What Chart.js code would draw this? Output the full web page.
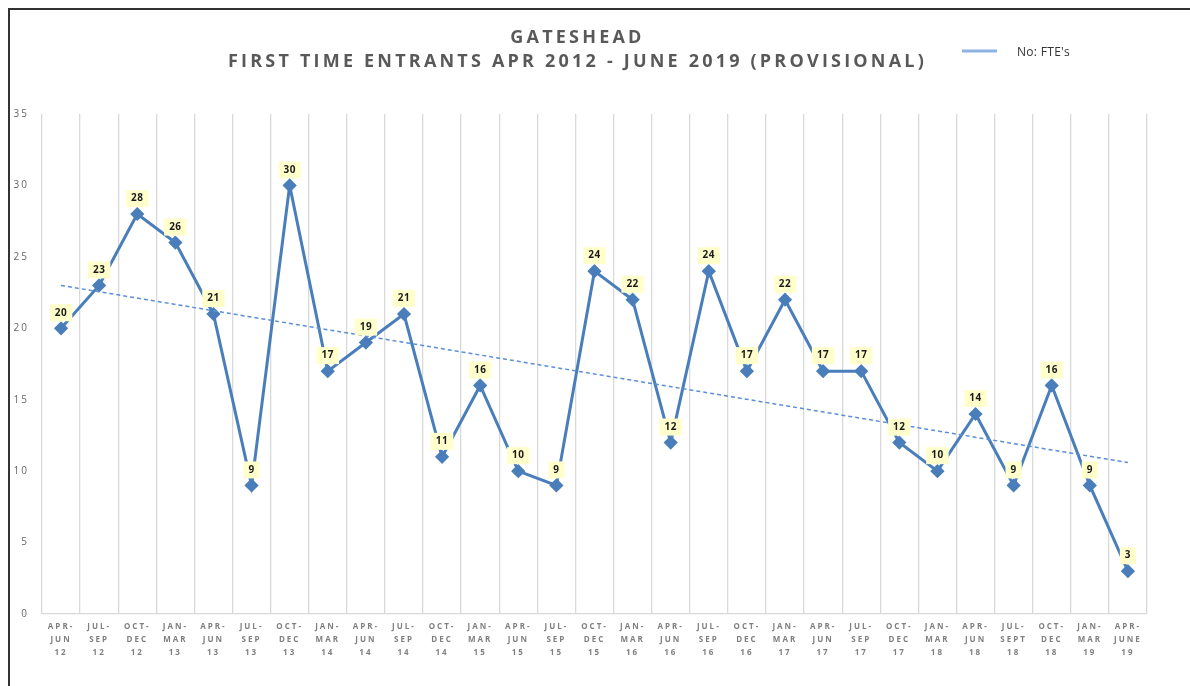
<!DOCTYPE html>
<html>
<head>
<meta charset="utf-8">
<script src="https://cdn.jsdelivr.net/npm/chart.js@4/dist/chart.umd.min.js"></script>
<style>
  body { margin: 0; background: #fff; }
  #frame { position: absolute; left: 8px; top: 8px; width: 1190px; height: 686px;
           border-top: 2px solid #333; border-left: 2px solid #333; }
  #wrap { position: absolute; left: 0; top: 0; width: 1190px; height: 686px; }
</style>
</head>
<body>
<div id="frame"></div>
<div id="wrap"><canvas id="myChart"></canvas></div>
<script>
var quarters = [
    ['APR-', 'JUN', '12'], ['JUL-', 'SEP', '12'], ['OCT-', 'DEC', '12'], ['JAN-', 'MAR', '13'],
    ['APR-', 'JUN', '13'], ['JUL-', 'SEP', '13'], ['OCT-', 'DEC', '13'], ['JAN-', 'MAR', '14'],
    ['APR-', 'JUN', '14'], ['JUL-', 'SEP', '14'], ['OCT-', 'DEC', '14'], ['JAN-', 'MAR', '15'],
    ['APR-', 'JUN', '15'], ['JUL-', 'SEP', '15'], ['OCT-', 'DEC', '15'], ['JAN-', 'MAR', '16'],
    ['APR-', 'JUN', '16'], ['JUL-', 'SEP', '16'], ['OCT-', 'DEC', '16'], ['JAN-', 'MAR', '17'],
    ['APR-', 'JUN', '17'], ['JUL-', 'SEP', '17'], ['OCT-', 'DEC', '17'], ['JAN-', 'MAR', '18'],
    ['APR-', 'JUN', '18'], ['JUL-', 'SEPT', '18'], ['OCT-', 'DEC', '18'], ['JAN-', 'MAR', '19'],
    ['APR-', 'JUNE', '19']
];
var fteCounts = [20, 23, 28, 26, 21, 9, 30, 17, 19, 21, 11, 16, 10, 9, 24, 22, 12, 24, 17, 22,
                 17, 17, 12, 10, 14, 9, 16, 9, 3];
// linear trend, only the two ends
var trendLine = [23.0, null, null, null, null, null, null, null, null, null, null, null, null, null, null,
                 null, null, null, null, null, null, null, null, null, null, null, null, null, 10.6];
var yTicks = [0, 5, 10, 15, 20, 25, 30, 35];
var chartTitle = ['GATESHEAD', 'FIRST TIME ENTRANTS APR 2012 - JUNE 2019 (PROVISIONAL)'];
var legendText = "No: FTE's";

var spacing = {
    id: 'spacing',
    beforeDraw: function (chart) {
        chart.ctx.letterSpacing = '2px';
    },
    afterDraw: function (chart) {
        chart.ctx.letterSpacing = '0px';
    }
};

// title is drawn with wider spacing than the axes
var titleSpacing = {
    id: 'titleSpacing',
    beforeDraw: function (chart) {
        var t = chart.titleBlock;
        if (!t || t._spaced) return;
        var orig = t.draw.bind(t);
        t.draw = function () {
            chart.ctx.save();
            chart.ctx.letterSpacing = '3.2px';
            orig();
            chart.ctx.restore();
        };
        t._spaced = true;
    }
};

var valueBoxes = {
    id: 'valueBoxes',
    afterDatasetsDraw: function (chart) {
        var ctx = chart.ctx;
        var meta = chart.getDatasetMeta(1);
        ctx.save();
        ctx.letterSpacing = '0.5px';
        ctx.font = 'bold 10px "Open Sans"';
        ctx.textAlign = 'center';
        ctx.textBaseline = 'middle';
        meta.data.forEach(function (pt, i) {
            var txt = String(fteCounts[i]);
            var w = ctx.measureText(txt).width + 10;
            var cx = pt.x, cy = pt.y - 16;
            ctx.fillStyle = '#ffffcc';
            ctx.fillRect(cx - w / 2, cy - 8, w, 17);
            ctx.fillStyle = '#1a1a1a';
            ctx.fillText(txt, cx, cy + 0.5);
        });
        // legend beside the title
        ctx.strokeStyle = '#8db3e2';
        ctx.lineWidth = 3;
        ctx.beginPath();
        ctx.moveTo(962, 51);
        ctx.lineTo(997, 51);
        ctx.stroke();
        ctx.font = '12px "Open Sans"';
        ctx.textAlign = 'left';
        ctx.fillStyle = '#333333';
        ctx.letterSpacing = '0.3px';
        ctx.fillText(legendText, 1017, 53);
        ctx.restore();
    }
};

var ctx = document.getElementById('myChart').getContext('2d');
var myChart = new Chart(ctx, {
    type: 'line',
    data: {
        labels: quarters,
        datasets: [{
            label: 'Trend',
            data: trendLine,
            spanGaps: true,
            borderColor: '#5b8fd6',
            borderWidth: 1.5,
            borderDash: [4, 3],
            pointRadius: 0,
            fill: false
        }, {
            label: legendText,
            data: fteCounts,
            borderColor: '#4a7ebb',
            backgroundColor: '#4a7ebb',
            borderWidth: 3,
            pointStyle: 'rectRot',
            pointRadius: 5,
            tension: 0,
            fill: false
        }]
    },
    options: {
        responsive: true,
        maintainAspectRatio: false,
        animation: false,
        layout: { padding: { left: 8, right: 43, top: 0, bottom: 0 } },
        plugins: {
            legend: { display: false },
            tooltip: { enabled: false },
            title: {
                display: true,
                text: chartTitle,
                color: '#595959',
                font: { family: '"Open Sans"', size: 18, weight: 'bold', lineHeight: '24px' },
                padding: { top: 26, bottom: 40 }
            }
        },
        scales: {
            x: {
                offset: true,
                grid: { offset: true, color: '#d9d9d9', lineWidth: 1.3, drawTicks: false },
                border: { color: '#d9d9d9', width: 1.3 },
                ticks: {
                    autoSkip: false,
                    maxRotation: 0,
                    padding: 6,
                    color: '#7f7f7f',
                    font: { family: '"Open Sans"', size: 8, weight: 'bold', lineHeight: '13px' }
                },
                afterFit: function (scale) { scale.height = 72; }
            },
            y: {
                min: 0,
                max: 35,
                grid: { display: false, drawTicks: false },
                border: { display: false },
                afterBuildTicks: function (scale) {
                    scale.ticks = yTicks.map(function (v) { return { value: v }; });
                },
                ticks: {
                    padding: 13,
                    color: '#666666',
                    font: { family: '"Open Sans"', size: 10 }
                },
                afterFit: function (scale) { scale.width = 34; }
            }
        }
    },
    plugins: [spacing, titleSpacing, valueBoxes]
});
</script>
</body>
</html>
